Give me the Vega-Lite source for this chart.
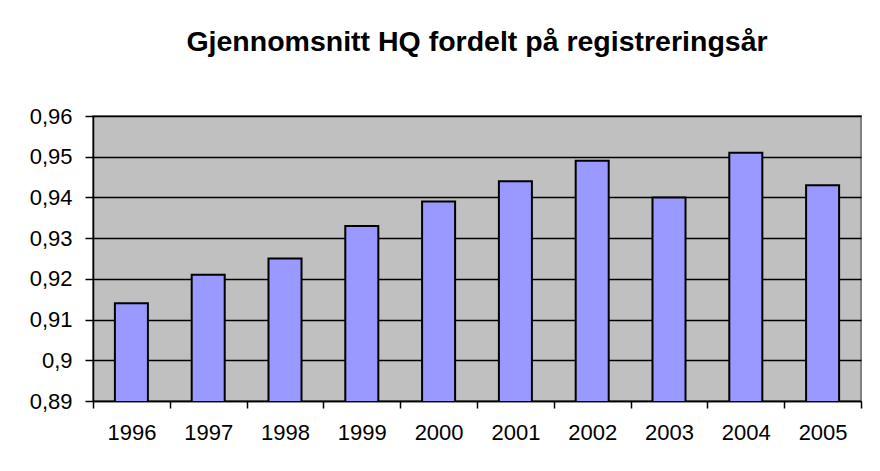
{
  "$schema": "https://vega.github.io/schema/vega-lite/v6.json",
  "width": 768,
  "height": 285,
  "autosize": {"type": "none"},
  "padding": {"left": 93, "top": 116, "right": 19, "bottom": 70},
  "background": "white",
  "title": {
    "text": "Gjennomsnitt HQ fordelt på registreringsår",
    "font": "Liberation Sans",
    "fontSize": 28.5,
    "fontWeight": "bold",
    "color": "black",
    "anchor": "middle",
    "offset": 49
  },
  "data": {
    "values": [
      {"year": "1996", "hq": 0.914},
      {"year": "1997", "hq": 0.921},
      {"year": "1998", "hq": 0.925},
      {"year": "1999", "hq": 0.933},
      {"year": "2000", "hq": 0.939},
      {"year": "2001", "hq": 0.944},
      {"year": "2002", "hq": 0.949},
      {"year": "2003", "hq": 0.940},
      {"year": "2004", "hq": 0.951},
      {"year": "2005", "hq": 0.943}
    ]
  },
  "mark": {"type": "bar", "fill": "#9999FF", "stroke": "black", "strokeWidth": 2, "clip": true, "width": {"band": 0.43}},
  "encoding": {
    "x": {
      "field": "year",
      "type": "ordinal",
      "scale": {"paddingInner": 0, "paddingOuter": 0},
      "axis": {
        "title": null,
        "labelAngle": 0,
        "tickBand": "extent",
        "tickSize": 7,
        "tickColor": "black",
        "tickWidth": 1.5,
        "domainColor": "black",
        "domainWidth": 1.5,
        "labelFont": "Liberation Sans",
        "labelFontSize": 22,
        "labelColor": "black",
        "labelPadding": 14,
        "grid": false
      }
    },
    "y": {
      "field": "hq",
      "type": "quantitative",
      "scale": {"domain": [0.89, 0.96], "nice": false, "zero": false},
      "axis": {
        "title": null,
        "values": [0.89, 0.9, 0.91, 0.92, 0.93, 0.94, 0.95, 0.96],
        "format": ".2~f",
        "formatType": "number",
        "labelExpr": "replace(datum.label, '.', ',')",
        "tickSize": 8,
        "tickColor": "black",
        "tickWidth": 1.5,
        "domainColor": "black",
        "domainWidth": 1.5,
        "grid": true,
        "gridColor": "black",
        "gridWidth": 1.5,
        "labelFont": "Liberation Sans",
        "labelFontSize": 22,
        "labelColor": "black",
        "labelPadding": 13
      }
    }
  },
  "config": {
    "view": {"fill": "#C0C0C0", "stroke": "#808080", "strokeWidth": 2}
  }
}
